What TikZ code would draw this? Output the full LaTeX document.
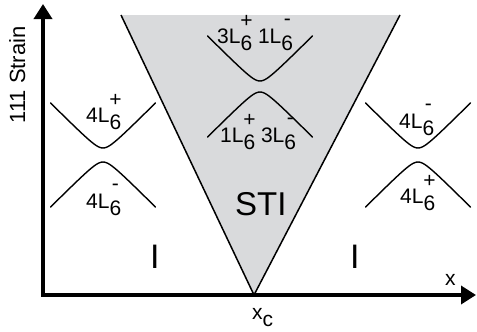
\documentclass[tikz,border=0pt]{standalone}
\usepackage{fontspec}
\setmainfont{Liberation Sans}
\usetikzlibrary{arrows.meta}
\definecolor{stigray}{RGB}{217,218,220}
\newcommand\Lp{L\raisebox{-0.38em}{6}\llap{\makebox[0.556em][c]{\raisebox{0.75em}{+}}}}
\newcommand\Lm{L\raisebox{-0.38em}{6}\llap{\makebox[0.556em][c]{\raisebox{0.84em}{-}}}}
\begin{document}
\begin{tikzpicture}[x=1pt,y=-1pt,
  lab/.style={font=\fontsize{21}{25}\selectfont, inner sep=0pt, anchor=base west},
  big/.style={font=\fontsize{34}{40}\selectfont, inner sep=0pt, anchor=base west},
  curve/.style={line width=1.4pt, line cap=round},
  edge/.style={line width=1.5pt},
  axis/.style={line width=3.5pt, line join=miter}]
\useasboundingbox (0,0) rectangle (477,332);
% STI wedge
\coordinate (tl) at (121,15);
\coordinate (tr) at (400,15);
\coordinate (xc) at (254,295);
\fill[stigray] (tl) -- (tr) -- (xc) -- cycle;
\draw[edge] (tl) -- (xc) -- (tr);
% axes
\coordinate (ytip) at (43,4);
\coordinate (orig) at (43,295);
\coordinate (xtip) at (476,295);
\draw[axis, {Triangle[length=15pt,width=18pt]}-{Triangle[length=15pt,width=18pt]}] (ytip) -- (orig) -- (xtip);
% band curves
\foreach \cx/\cy/\s in {103/103/1, 103/207/-1, 260/36/1, 260/137/-1, 418/103/1, 418/207/-1}{
  \draw[curve] plot[domain=-52.5:52.5, samples=61, smooth] ({\cx+\x}, {\cy + \s*(45 - (sqrt(\x*\x+64)-8))});
}
% labels
\node[lab] (lu) at (86,122) {4\Lp};
\node[lab] (ll) at (86,208) {4\Lm};
\node[lab] (ru) at (399,128) {4\Lm};
\node[lab] (rl) at (400,203) {4\Lp};
\node[lab] (mu) at (217,43) {3\Lp\ 1\Lm};
\node[lab] (ml) at (220,142) {1\Lp\ 3\Lm};
\node[big, font=\fontsize{33}{40}\selectfont] (sti) at (235,215) {STI};
\node[big] (il) at (150,268) {I};
\node[big] (ir) at (350,268) {I};
\node[lab] (xl) at (445,285) {x};
\node[lab] (xcl) at (252,319) {x\raisebox{-0.38em}{c}};
\node[font=\fontsize{22}{26}\selectfont, inner sep=0pt, rotate=90, anchor=base] (yl) at (25,75) {111 Strain};
\end{tikzpicture}
\end{document}
